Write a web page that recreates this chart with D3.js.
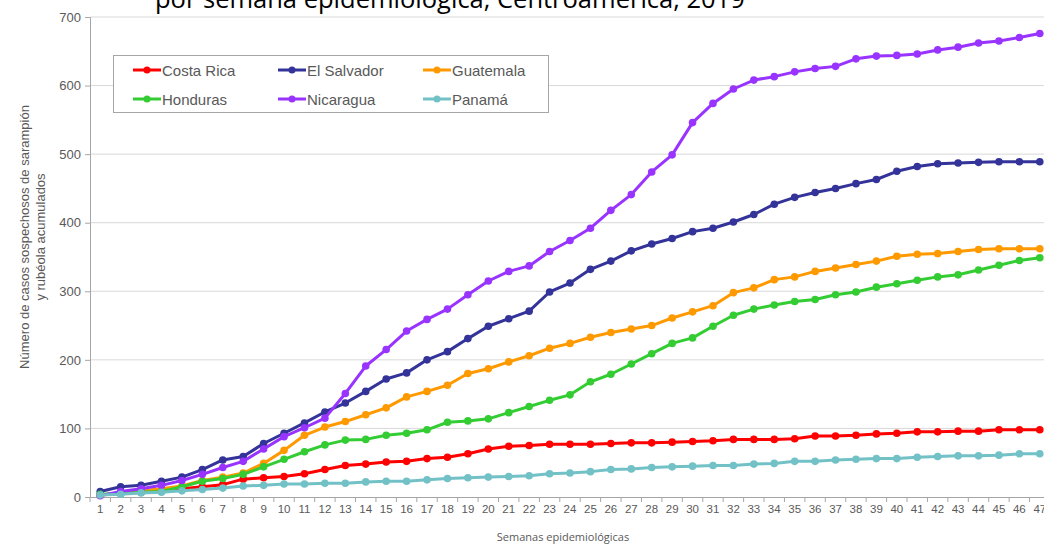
<!DOCTYPE html>
<html>
<head>
<meta charset="utf-8">
<script src="https://cdn.jsdelivr.net/npm/d3@7"></script>
<style>
  body { margin: 0; background: #fff; overflow: hidden; }
  text { font-family: "Liberation Sans", Arial, sans-serif; }
</style>
</head>
<body>
<div id="chart"></div>
<script>
// weeks and cumulative suspected cases per country
const weeks = d3.range(1, 48);

const countries = ["Costa Rica", "El Salvador", "Guatemala", "Honduras", "Nicaragua", "Panamá"];
const colors = ["#ff0000", "#333399", "#ff9900", "#33cc33", "#9933ff", "#72c1c7"];

const costaRica = [3,5,7,9,12,15,18,26,28,30, 34,40,46,48,51,52,56,58,63,70,
  74,75,77,77,77,78,79,79,80,81, 82,84,84,84,85,89,89,90,92,93, 95,95,96,96,98,98,98];
const elSalvador = [8,15,17,23,29,40,54,59,78,93, 108,124,137,154,172,181,200,212,231,249,
  260,271,299,312,332,344,359,369,377,387, 392,401,412,427,437,444,450,457,463,475, 482,486,487,488,489,489,489];
const guatemala = [3,6,9,12,16,24,29,35,49,68, 90,102,110,120,130,146,154,163,180,187,
  197,206,217,224,233,240,245,250,261,270, 279,298,305,317,321,329,334,339,344,351, 354,355,358,361,362,362,362];
const honduras = [4,5,7,8,15,23,27,33,44,55, 66,76,83,84,90,93,98,109,111,114,
  123,132,141,149,168,179,194,209,224,232, 249,265,274,280,285,288,295,299,306,311, 316,321,324,331,338,345,349];
const nicaragua = [2,8,12,17,24,33,43,52,70,88, 101,115,151,191,215,242,259,274,295,315,
  329,337,358,374,392,418,441,474,499,546, 574,595,608,613,620,625,628,639,643,644, 646,652,656,662,665,670,676];
const panama = [3,4,6,7,9,11,13,16,17,19, 19,20,20,22,23,23,25,27,28,29,
  30,31,34,35,37,40,41,43,44,45, 46,46,48,49,52,52,54,55,56,56, 58,59,60,60,61,63,63];

const yTicks = [0, 100, 200, 300, 400, 500, 600, 700];

const series = [costaRica, elSalvador, guatemala, honduras, nicaragua, panama];

const width = 1044, height = 544;
const plotLeft = 90, plotRight = 1050, plotTop = 17, plotBottom = 497;

const svg = d3.select("#chart")
    .append("svg")
    .attr("width", width)
    .attr("height", height);

const x = d3.scaleBand()
    .domain(weeks)
    .range([plotLeft, plotRight]);

const y = d3.scaleLinear()
    .domain([0, 700])
    .range([plotBottom, plotTop]);

// title (first line is outside the picture)
svg.append("text")
    .attr("x", 155)
    .attr("y", 8)
    .style("font-family", "'Open Sans', sans-serif")
    .style("font-size", "25.5px")
    .attr("fill", "#000")
    .text("por semana epidemiológica, Centroamérica, 2019");

// gridlines
svg.append("g")
    .selectAll("line")
    .data(yTicks.slice(1))
    .enter()
    .append("line")
    .attr("x1", plotLeft)
    .attr("x2", width)
    .attr("y1", d => y(d))
    .attr("y2", d => y(d))
    .attr("stroke", "#d9d9d9")
    .attr("stroke-width", 1);

// y axis
const yAxis = svg.append("g")
    .attr("transform", `translate(${plotLeft},0)`)
    .call(d3.axisLeft(y).tickValues(yTicks).tickSize(5).tickPadding(4));
yAxis.select(".domain").attr("stroke", "#a6a6a6");
yAxis.selectAll(".tick line").attr("stroke", "#a6a6a6");
yAxis.selectAll("text")
    .style("font-size", "13px")
    .attr("fill", "#595959");

// x axis, ticks between the weeks
const xAxis = svg.append("g")
    .attr("transform", `translate(0,${plotBottom})`)
    .call(d3.axisBottom(x).tickSize(0).tickPadding(8));
xAxis.select(".domain").attr("stroke", "#a6a6a6");
xAxis.selectAll("text")
    .style("font-size", "11.5px")
    .attr("fill", "#595959");

svg.append("g")
    .selectAll("line")
    .data(weeks)
    .enter()
    .append("line")
    .attr("x1", d => x(d))
    .attr("x2", d => x(d))
    .attr("y1", plotBottom)
    .attr("y2", plotBottom + 5)
    .attr("stroke", "#a6a6a6");

// axis titles
svg.append("text")
    .attr("transform", "translate(29,237) rotate(-90)")
    .attr("text-anchor", "middle")
    .style("font-size", "13px")
    .attr("fill", "#595959")
    .text("Número de casos sospechosos de sarampión");

svg.append("text")
    .attr("transform", "translate(45,237) rotate(-90)")
    .attr("text-anchor", "middle")
    .style("font-size", "13px")
    .attr("fill", "#595959")
    .text("y rubéola acumulados");

svg.append("text")
    .attr("x", 563)
    .attr("y", 541)
    .attr("text-anchor", "middle")
    .style("font-family", "'Open Sans', sans-serif")
    .style("font-size", "11px")
    .attr("fill", "#595959")
    .text("Semanas epidemiológicas");

// lines and markers
const line = d3.line()
    .x((d, i) => x(weeks[i]) + x.bandwidth() / 2)
    .y(d => y(d));

series.forEach((values, k) => {
    svg.append("path")
        .datum(values)
        .attr("fill", "none")
        .attr("stroke", colors[k])
        .attr("stroke-width", 3)
        .attr("stroke-linejoin", "round")
        .attr("d", line);

    svg.append("g")
        .selectAll("circle")
        .data(values)
        .enter()
        .append("circle")
        .attr("cx", (d, i) => x(weeks[i]) + x.bandwidth() / 2)
        .attr("cy", d => y(d))
        .attr("r", 3.8)
        .attr("fill", colors[k]);
});

// legend
const legend = svg.append("g");

legend.append("rect")
    .attr("x", 113.5)
    .attr("y", 55.5)
    .attr("width", 435)
    .attr("height", 57)
    .attr("fill", "#fff")
    .attr("stroke", "#a6a6a6");

const items = legend.selectAll("g.item")
    .data(countries)
    .enter()
    .append("g")
    .attr("class", "item")
    .attr("transform", (d, i) => `translate(${133 + (i % 3) * 145},${i < 3 ? 70 : 99})`);

items.append("line")
    .attr("x1", 0)
    .attr("x2", 28)
    .attr("stroke", (d, i) => colors[i])
    .attr("stroke-width", 3);

items.append("circle")
    .attr("cx", 14)
    .attr("r", 3.5)
    .attr("fill", (d, i) => colors[i]);

items.append("text")
    .attr("x", 29)
    .attr("y", 5.5)
    .style("font-size", "15px")
    .attr("fill", "#595959")
    .text(d => d);
</script>
</body>
</html>
